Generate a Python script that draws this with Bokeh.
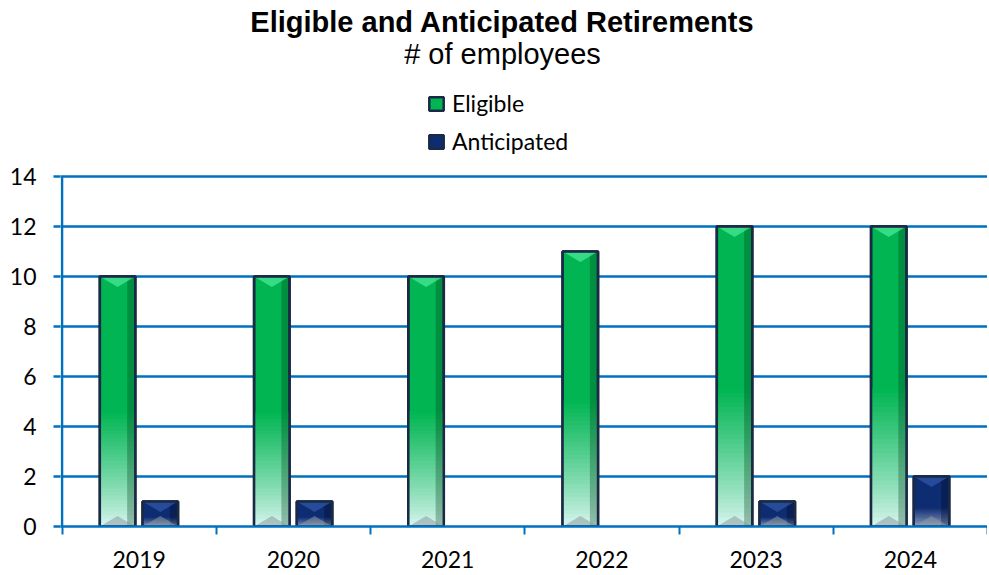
import numpy as np
from bokeh.plotting import figure
from bokeh.models import (ColumnDataSource, FixedTicker, Legend, LegendItem,
                          Label, Range1d)
from bokeh.embed import file_html
from bokeh.resources import INLINE

# ---------------- data ----------------
years = ["2019", "2020", "2021", "2022", "2023", "2024"]
eligible = [10, 10, 10, 11, 12, 12]
anticipated = [1, 1, 0, 0, 1, 2]
y_ticks = [0, 2, 4, 6, 8, 10, 12, 14]
series_names = ["Eligible", "Anticipated"]
title_text = "Eligible and Anticipated Retirements"
subtitle_text = "# of employees"

# ---------------- layout / style ----------------
BLUE = "#0070C0"
OUTLINE = "#1A2A45"
FONT = "Lato"
W, H = 987, 574
BORDER_LEFT, BORDER_BOTTOM = 60, 48
FRAME_H = H - BORDER_BOTTOM          # frame reaches the top of the canvas
PLOT_H = 350                         # pixel height of the 0..14 value band
y_top = y_ticks[-1] * FRAME_H / PLOT_H
x_pad = 0.01                         # room for the drawn value axis line

p = figure(width=W, height=H, output_backend="svg", toolbar_location=None,
           x_range=Range1d(-x_pad, len(years)), y_range=Range1d(0, y_top),
           min_border_left=BORDER_LEFT, min_border_right=0, min_border_top=0,
           min_border_bottom=BORDER_BOTTOM)
p.outline_line_color = None
p.background_fill_color = "white"

centers = np.arange(len(years)) + 0.5
bw = 0.23
series = [
    dict(name=series_names[0], vals=eligible, off=-0.14, base="#00B552",
         top_fade="#00B552", bottom_fade="#DDF6F2", frac=0.46,
         bevel_top="#48E898", edge="#003818"),
    dict(name=series_names[1], vals=anticipated, off=0.137, base="#0E2C72",
         top_fade="#0E2C72", bottom_fade="#9AA8C8", frac=0.38,
         bevel_top="#2F55A8", edge="#000818"),
]


def hex2rgb(h):
    h = h.lstrip("#")
    return [int(h[i:i + 2], 16) for i in (0, 2, 4)]


def mix(c1, c2, t):
    a, b = hex2rgb(c1), hex2rgb(c2)
    return "#%02x%02x%02x" % tuple(int(round(x + (y - x) * t)) for x, y in zip(a, b))


# value axis line, drawn from the first to the last tick
p.segment(x0=[0], y0=[y_ticks[0]], x1=[0], y1=[y_ticks[-1]], line_color=BLUE,
          line_width=2.5)

legend_items = []
for s in series:
    xs_all = centers + s["off"]
    vals_all = np.array(s["vals"], dtype=float)
    nz = vals_all > 0
    xs, vals = xs_all[nz], vals_all[nz]
    src = ColumnDataSource(dict(x=xs, top=vals))
    base = p.vbar(x="x", top="top", width=bw, source=src, fill_color=s["base"],
                  line_color=OUTLINE, line_width=2.5)
    legend_items.append(LegendItem(label=s["name"], renderers=[base]))

    # vertical gradient in the lower part of each bar
    gx, gb, gt, gc = [], [], [], []
    n = 30
    for xi, v in zip(xs, vals):
        edges = np.linspace(0, v * s["frac"], n + 1)
        step = edges[1] - edges[0]
        for k in range(n):
            gx.append(xi)
            gb.append(edges[k])
            gt.append(edges[k + 1] + (0.8 * step if k < n - 1 else 0.0))
            t = (k + 0.5) / n
            gc.append(mix(s["bottom_fade"], s["top_fade"], t ** 0.85))
    gsrc = ColumnDataSource(dict(x=gx, bottom=gb, top=gt, color=gc))
    p.vbar(x="x", bottom="bottom", top="top", width=bw, source=gsrc,
           fill_color="color", line_color=None)

    # darker right edge
    esrc = ColumnDataSource(dict(x=xs + bw * 0.38, top=vals))
    p.vbar(x="x", top="top", width=bw * 0.22, source=esrc, fill_color=s["edge"],
           fill_alpha=0.30, line_color=None)

    # bevels (top chevron, bottom chevron)
    d = 0.42
    txs, tys, bxs, bys = [], [], [], []
    for xi, v in zip(xs, vals):
        txs.append([xi - bw / 2, xi + bw / 2, xi])
        tys.append([v, v, v - d])
        bxs.append([xi - bw / 2, xi + bw / 2, xi])
        bys.append([0, 0, d])
    p.patches(txs, tys, fill_color=s["bevel_top"], fill_alpha=0.75, line_color=None)
    p.patches(bxs, bys, fill_color="#8E9A9C", fill_alpha=0.55, line_color=None)

    # outline on top
    p.vbar(x="x", top="top", width=bw, source=src, fill_color=None,
           line_color=OUTLINE, line_width=2.5)

# ---------------- axes & grid ----------------
xa = p.xaxis[0]
xa.ticker = FixedTicker(ticks=list(centers), minor_ticks=list(range(len(years) + 1)))
xa.major_label_overrides = {float(c): y for c, y in zip(centers, years)}
xa.major_tick_out = 0
xa.major_tick_in = 0
xa.minor_tick_out = 8
xa.minor_tick_in = 0
xa.minor_tick_line_color = BLUE
xa.minor_tick_line_width = 2
xa.axis_line_color = BLUE
xa.axis_line_width = 2.5
xa.major_label_standoff = 16
xa.major_label_text_font = FONT
xa.major_label_text_font_size = "23px"
xa.major_label_text_color = "black"

ya = p.yaxis[0]
ya.ticker = FixedTicker(ticks=y_ticks)
ya.major_tick_out = 7
ya.major_tick_in = 0
ya.major_tick_line_color = BLUE
ya.major_tick_line_width = 2.5
ya.minor_tick_line_color = None
ya.axis_line_color = None
ya.major_label_standoff = 17
ya.major_label_text_font = FONT
ya.major_label_text_font_size = "23px"
ya.major_label_text_color = "black"

p.xgrid.visible = False
p.ygrid.ticker = FixedTicker(ticks=y_ticks)
p.ygrid.grid_line_color = BLUE
p.ygrid.grid_line_width = 2.5

# ---------------- titles ----------------
p.add_layout(Label(x=442, y=FRAME_H - 21, x_units="screen", y_units="screen",
                   text=title_text, text_align="center", text_baseline="middle",
                   text_font="Liberation Sans", text_font_style="bold",
                   text_font_size="29px", text_color="black"))
p.add_layout(Label(x=442, y=FRAME_H - 53, x_units="screen", y_units="screen",
                   text=subtitle_text, text_align="center", text_baseline="middle",
                   text_font="Liberation Sans", text_font_size="29px",
                   text_color="black"))

# ---------------- legend ----------------
legend = Legend(items=legend_items, location=(367, FRAME_H - 155),
                orientation="vertical", glyph_width=18, glyph_height=17,
                label_standoff=7, spacing=10, padding=0, margin=0,
                border_line_color=None, background_fill_alpha=0,
                label_text_font=FONT, label_text_font_size="23px",
                label_text_color="black")
p.add_layout(legend)

open("out.html", "w").write(file_html(p, INLINE))
